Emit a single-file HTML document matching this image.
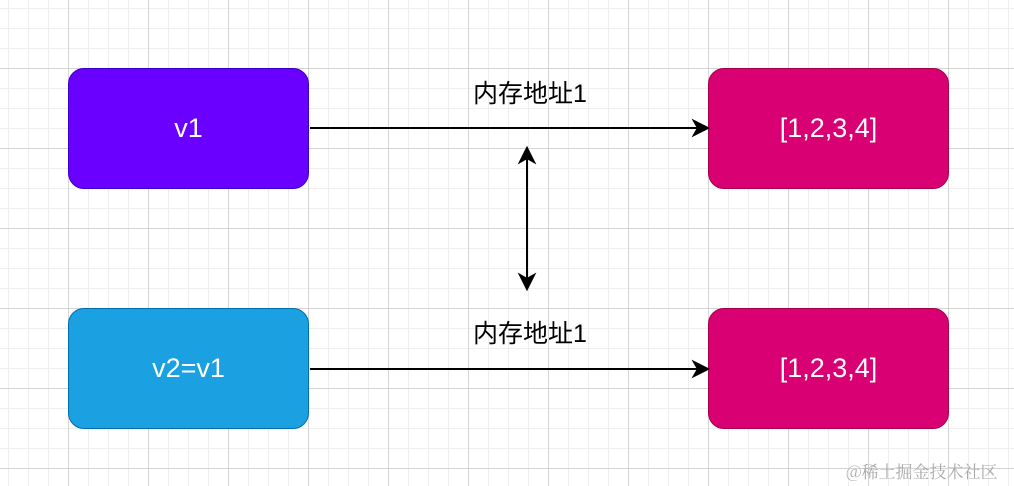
<!DOCTYPE html><html><head><style>
body{margin:0;width:1014px;height:486px;overflow:hidden;background:#fff;
background-image:linear-gradient(#d4d4d4 1px,transparent 1px),linear-gradient(90deg,#d4d4d4 1px,transparent 1px),linear-gradient(#eeeeee 1px,transparent 1px),linear-gradient(90deg,#eeeeee 1px,transparent 1px);
background-size:80px 80px,80px 80px,20px 20px,20px 20px;background-position:68px 68px,68px 68px,8px 8px,8px 8px;
font-family:"Liberation Sans","Noto Sans CJK SC",sans-serif;position:relative}
.b{position:absolute;width:239px;height:119px;border-radius:16px;color:#fff;font-size:27px;display:flex;align-items:center;justify-content:center}
.l{position:absolute;font-size:25px;color:#000;width:200px;text-align:center;left:430px}
</style></head><body>
<div class="b" style="left:68px;top:68px;background:#6a00ff;border:1px solid #3700cc">v1</div>
<div class="b" style="left:68px;top:308px;background:#1ba1e2;border:1px solid #006eaf">v2=v1</div>
<div class="b" style="left:708px;top:68px;background:#d80073;border:1px solid #a50040">[1,2,3,4]</div>
<div class="b" style="left:708px;top:308px;background:#d80073;border:1px solid #a50040">[1,2,3,4]</div>
<div class="l" style="top:74px">内存地址1</div>
<div class="l" style="top:314px">内存地址1</div>
<svg width="1014" height="486" style="position:absolute;left:0;top:0">
<g stroke="#000" stroke-width="2" fill="#000">
<line x1="310" y1="128" x2="698" y2="128"/><path d="M708 128 L694 121 L698 128 L694 135Z"/>
<line x1="310" y1="369" x2="698" y2="369"/><path d="M708 369 L694 362 L698 369 L694 376Z"/>
<line x1="527" y1="158" x2="527" y2="279"/><path d="M527 148 L520 162 L527 158 L534 162Z"/><path d="M527 289 L520 275 L527 279 L534 275Z"/>
</g></svg>
<div style="position:absolute;left:846px;top:458px;font-size:17px;color:#aaa;font-family:'Noto Serif CJK SC',serif">@稀土掘金技术社区</div>
</body></html>
